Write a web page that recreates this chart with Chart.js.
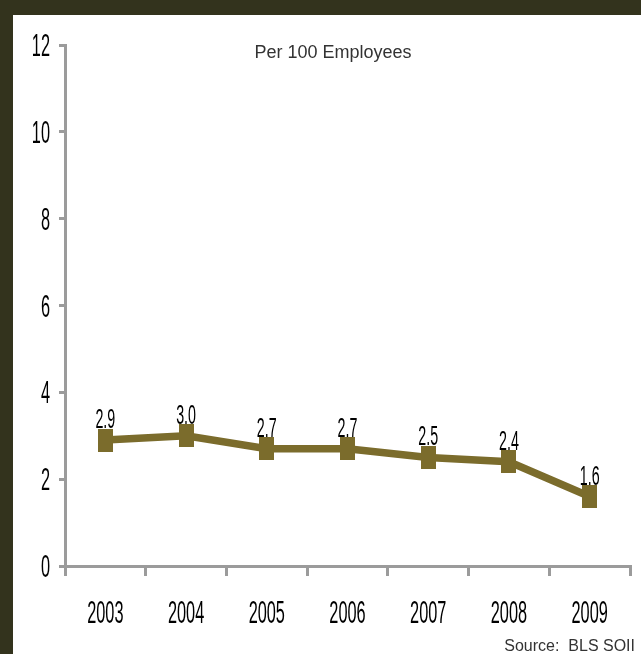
<!DOCTYPE html>
<html>
<head>
<meta charset="utf-8">
<script src="https://cdn.jsdelivr.net/npm/chart.js@4"></script>
<style>
  html, body { margin: 0; padding: 0; background: #33331d; width: 641px; height: 654px; overflow: hidden; }
  #frame { position: absolute; left: 13px; top: 15px; width: 628px; height: 639px; background: #ffffff; }
  #chart { display: block; }
</style>
</head>
<body>
<div id="frame"><canvas id="chart" width="628" height="639"></canvas></div>
<script>
// Injury and illness rate, per 100 employees
const years = ['2003', '2004', '2005', '2006', '2007', '2008', '2009'];
const rates = [2.9, 3.0, 2.7, 2.7, 2.5, 2.4, 1.6];
const yTicks = [0, 2, 4, 6, 8, 10, 12];
const titleText = 'Per 100 Employees';
const sourceText = 'Source:  BLS SOII';

const LINE_COLOR = '#7b6c2c';
const AXIS_COLOR = '#9b9b9b';
const NARROW = '"Liberation Sans", Arial, sans-serif';

// tall, narrow rectangle marker
const marker = document.createElement('canvas');
marker.width = 15; marker.height = 23;
(function () {
  const m = marker.getContext('2d');
  m.fillStyle = LINE_COLOR;
  m.fillRect(0, 0, 15, 23);
})();

// draws condensed text by squeezing it horizontally
function narrowText(ctx, text, x, y, size, sx, align) {
  ctx.save();
  ctx.translate(x, y);
  ctx.scale(sx, 1);
  ctx.font = size + 'px ' + NARROW;
  ctx.textAlign = align;
  ctx.textBaseline = 'alphabetic';
  ctx.fillStyle = '#000';
  ctx.fillText(text, 0, 0);
  ctx.restore();
}

const labelsPlugin = {
  id: 'labelsPlugin',
  afterDraw(chart) {
    const ctx = chart.ctx;
    const xs = chart.scales.x, ys = chart.scales.y;
    // y tick labels
    yTicks.forEach(v => {
      narrowText(ctx, String(v), xs.left - 15, ys.getPixelForValue(v) + 11, 32, 0.51, 'right');
    });
    // x tick labels
    years.forEach((yr, i) => {
      narrowText(ctx, yr, xs.getPixelForValue(i), 608, 32, 0.51, 'center');
    });
    // value labels above each point
    const meta = chart.getDatasetMeta(0);
    meta.data.forEach((pt, i) => {
      narrowText(ctx, rates[i].toFixed(1), pt.x, pt.y - 12, 28, 0.51, 'center');
    });
    // title and source
    ctx.save();
    ctx.fillStyle = '#333333';
    ctx.textBaseline = 'alphabetic';
    ctx.font = '18px "Liberation Sans", Arial, sans-serif';
    ctx.textAlign = 'center';
    ctx.fillText(titleText, 320, 43);
    ctx.font = '16px "Liberation Sans", Arial, sans-serif';
    ctx.textAlign = 'right';
    ctx.fillText(sourceText, 622, 636);
    ctx.restore();
  }
};

new Chart(document.getElementById('chart'), {
  type: 'line',
  data: {
    labels: years,
    datasets: [{
      data: rates,
      borderColor: LINE_COLOR,
      borderWidth: 7.5,
      pointStyle: marker,
      pointRadius: 8,
      pointHoverRadius: 8,
      tension: 0,
      fill: false
    }]
  },
  options: {
    responsive: false,
    animation: false,
    events: [],
    layout: { autoPadding: false, padding: { top: 30, right: 11, left: 0, bottom: 0 } },
    plugins: { legend: { display: false }, tooltip: { enabled: false }, title: { display: false } },
    scales: {
      x: {
        type: 'category',
        offset: true,
        grid: { display: true, drawOnChartArea: false, drawTicks: true, tickLength: 10, color: AXIS_COLOR, lineWidth: 3, offset: true },
        border: { display: true, color: AXIS_COLOR, width: 3 },
        ticks: { display: false },
        afterFit(scale) { scale.height = 88; }
      },
      y: {
        min: 0,
        max: 12,
        afterBuildTicks(scale) { scale.ticks = yTicks.map(v => ({ value: v })); },
        grid: { display: true, drawOnChartArea: false, drawTicks: true, tickLength: 6, color: AXIS_COLOR, lineWidth: 3 },
        border: { display: true, color: AXIS_COLOR, width: 3 },
        ticks: { display: false },
        afterFit(scale) { scale.width = 52; }
      }
    }
  },
  plugins: [labelsPlugin]
});
</script>
</body>
</html>
